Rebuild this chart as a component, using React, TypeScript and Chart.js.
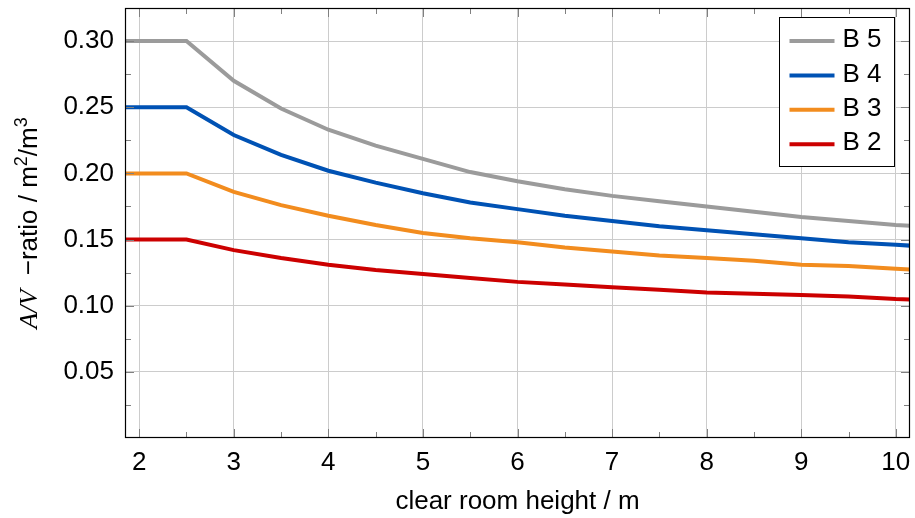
import React, { useEffect, useRef } from "react";
import { Chart, registerables } from "chart.js";

Chart.register(...registerables);

// clear room height / m
const heights = [1.5, 2, 2.5, 3, 3.5, 4, 4.5, 5, 5.5, 6, 6.5, 7, 7.5, 8, 8.5, 9, 9.5, 10, 10.5];
const b5 = [0.3, 0.3, 0.3, 0.27, 0.249, 0.233, 0.221, 0.211, 0.201, 0.194, 0.188, 0.183, 0.179, 0.175, 0.171, 0.167, 0.164, 0.161, 0.159];
const b4 = [0.25, 0.25, 0.25, 0.229, 0.214, 0.202, 0.193, 0.185, 0.178, 0.173, 0.168, 0.164, 0.16, 0.157, 0.154, 0.151, 0.148, 0.146, 0.144];
const b3 = [0.2, 0.2, 0.2, 0.186, 0.176, 0.168, 0.161, 0.155, 0.151, 0.148, 0.144, 0.141, 0.138, 0.136, 0.134, 0.131, 0.13, 0.128, 0.126];
const b2 = [0.15, 0.15, 0.15, 0.142, 0.136, 0.131, 0.127, 0.124, 0.121, 0.118, 0.116, 0.114, 0.112, 0.11, 0.109, 0.108, 0.107, 0.105, 0.104];

const seriesLabels = ["B 5", "B 4", "B 3", "B 2"];
const seriesColors = ["#9b9b9b", "#0052b4", "#f28c1e", "#cc0000"];

const xTicks = [2, 3, 4, 5, 6, 7, 8, 9, 10];
const xMinorTicks = [2.5, 3.5, 4.5, 5.5, 6.5, 7.5, 8.5, 9.5];
const yTicks = [0.05, 0.1, 0.15, 0.2, 0.25, 0.3];
const yMinorTicks = [0.025, 0.075, 0.125, 0.175, 0.225, 0.275];

const xTitle = "clear room height / m";
// y title pieces: [text, italic serif?, superscript?]
const yTitleParts: [string, boolean, boolean][] = [
  ["A/V", true, false],
  ["  \u2212ratio / m", false, false],
  ["2", false, true],
  ["/m", false, false],
  ["3", false, true],
];

const FONT = "'Liberation Sans', Arial, Helvetica, sans-serif";
const SERIF = "'Liberation Serif', 'DejaVu Serif', serif";
const FS = 26;

const framePlugin = {
  id: "frameTicksLegend",
  afterDraw(chart: any) {
    const { ctx, chartArea: a, scales } = chart;
    const x = scales.x;
    const y = scales.y;
    ctx.save();
    ctx.strokeStyle = "#808080";
    ctx.lineWidth = 1;
    const vTick = (v: number, len: number) => {
      const px = Math.round(x.getPixelForValue(v)) + 0.5;
      ctx.beginPath();
      ctx.moveTo(px, a.bottom);
      ctx.lineTo(px, a.bottom - len);
      ctx.moveTo(px, a.top);
      ctx.lineTo(px, a.top + len);
      ctx.stroke();
    };
    const hTick = (v: number, len: number) => {
      const py = Math.round(y.getPixelForValue(v)) + 0.5;
      ctx.beginPath();
      ctx.moveTo(a.left, py);
      ctx.lineTo(a.left + len, py);
      ctx.moveTo(a.right, py);
      ctx.lineTo(a.right - len, py);
      ctx.stroke();
    };
    xTicks.forEach((v) => vTick(v, 9));
    xMinorTicks.forEach((v) => vTick(v, 6));
    yTicks.forEach((v) => hTick(v, 9));
    yMinorTicks.forEach((v) => hTick(v, 6));

    ctx.strokeStyle = "#000";
    ctx.lineWidth = 1.2;
    ctx.strokeRect(a.left + 0.5, a.top + 0.5, a.right - a.left - 1, a.bottom - a.top - 1);

    // legend
    const bw = 115;
    const bh = 149;
    const bx = Math.round(a.right - 16 - bw) + 0.5;
    const by = Math.round(a.top + 9) + 0.5;
    ctx.fillStyle = "#fff";
    ctx.fillRect(bx, by, bw, bh);
    ctx.strokeStyle = "#000";
    ctx.lineWidth = 1;
    ctx.strokeRect(bx, by, bw, bh);
    ctx.font = `${FS}px ${FONT}`;
    ctx.textBaseline = "middle";
    ctx.textAlign = "left";
    chart.data.datasets.forEach((ds: any, i: number) => {
      const ly = by + 23.5 + i * 34.4;
      ctx.strokeStyle = ds.borderColor;
      ctx.lineWidth = 4;
      ctx.beginPath();
      ctx.moveTo(bx + 10, ly);
      ctx.lineTo(bx + 55, ly);
      ctx.stroke();
      ctx.fillStyle = "#000";
      ctx.fillText(ds.label, bx + 63, ly - 1);
    });

    // y axis title (rotated, mixed fonts)
    const fontFor = (italic: boolean, sup: boolean) =>
      italic ? `italic ${FS}px ${SERIF}` : `${sup ? Math.round(FS * 0.7) : FS}px ${FONT}`;
    let total = 0;
    yTitleParts.forEach(([t, it, sup]) => {
      ctx.font = fontFor(it, sup);
      total += ctx.measureText(t).width;
    });
    const cy = (a.top + a.bottom) / 2;
    ctx.translate(37, cy + total / 2);
    ctx.rotate(-Math.PI / 2);
    ctx.textBaseline = "alphabetic";
    ctx.fillStyle = "#000";
    let cx = 0;
    yTitleParts.forEach(([t, it, sup]) => {
      ctx.font = fontFor(it, sup);
      ctx.fillText(t, cx, sup ? -FS * 0.38 : 0);
      cx += ctx.measureText(t).width;
    });
    ctx.restore();
  },
};

export default function App() {
  const ref = useRef<HTMLCanvasElement | null>(null);

  useEffect(() => {
    if (!ref.current) return;
    Chart.defaults.font.family = FONT;
    Chart.defaults.color = "#000";
    const seriesData = [b5, b4, b3, b2];
    const chart = new Chart(ref.current, {
      type: "line",
      data: {
        datasets: seriesData.map((vals, i) => ({
          label: seriesLabels[i],
          data: heights.map((h, j) => ({ x: h, y: vals[j] })),
          borderColor: seriesColors[i],
          backgroundColor: seriesColors[i],
          borderWidth: 4,
          pointRadius: 0,
          tension: 0,
          clip: 0,
        })),
      },
      options: {
        animation: false,
        responsive: true,
        maintainAspectRatio: false,
        layout: { padding: { left: 0, right: 5, top: 8, bottom: 0 } },
        plugins: { legend: { display: false }, tooltip: { enabled: false } },
        scales: {
          x: {
            type: "linear",
            min: 1.85,
            max: 10.15,
            afterBuildTicks: (s: any) => {
              s.ticks = xTicks.map((value) => ({ value }));
            },
            afterFit: (s: any) => {
              s.height = 80;
              s.paddingLeft = 0;
              s.paddingRight = 0;
            },
            ticks: {
              autoSkip: false,
              maxRotation: 0,
              padding: 9,
              font: { size: FS },
              callback: (v: any) => String(v),
            },
            grid: { color: "#cccccc", lineWidth: 1, drawTicks: false },
            border: { display: false },
            title: {
              display: true,
              text: xTitle,
              font: { size: FS },
              padding: { top: 0, bottom: 1 },
            },
          },
          y: {
            type: "linear",
            min: 0,
            max: 0.325,
            afterBuildTicks: (s: any) => {
              s.ticks = yTicks.map((value) => ({ value }));
            },
            afterFit: (s: any) => {
              s.width = 125;
              s.paddingTop = 0;
              s.paddingBottom = 0;
            },
            ticks: {
              autoSkip: false,
              padding: 11,
              font: { size: FS },
              callback: (v: any) => Number(v).toFixed(2),
            },
            grid: { color: "#cccccc", lineWidth: 1, drawTicks: false },
            border: { display: false },
            title: { display: false },
          },
        },
      },
      plugins: [framePlugin],
    });
    return () => chart.destroy();
  }, []);

  return (
    <div style={{ position: "absolute", left: 0, top: 0, width: 915, height: 518 }}>
      <canvas ref={ref} />
    </div>
  );
}
